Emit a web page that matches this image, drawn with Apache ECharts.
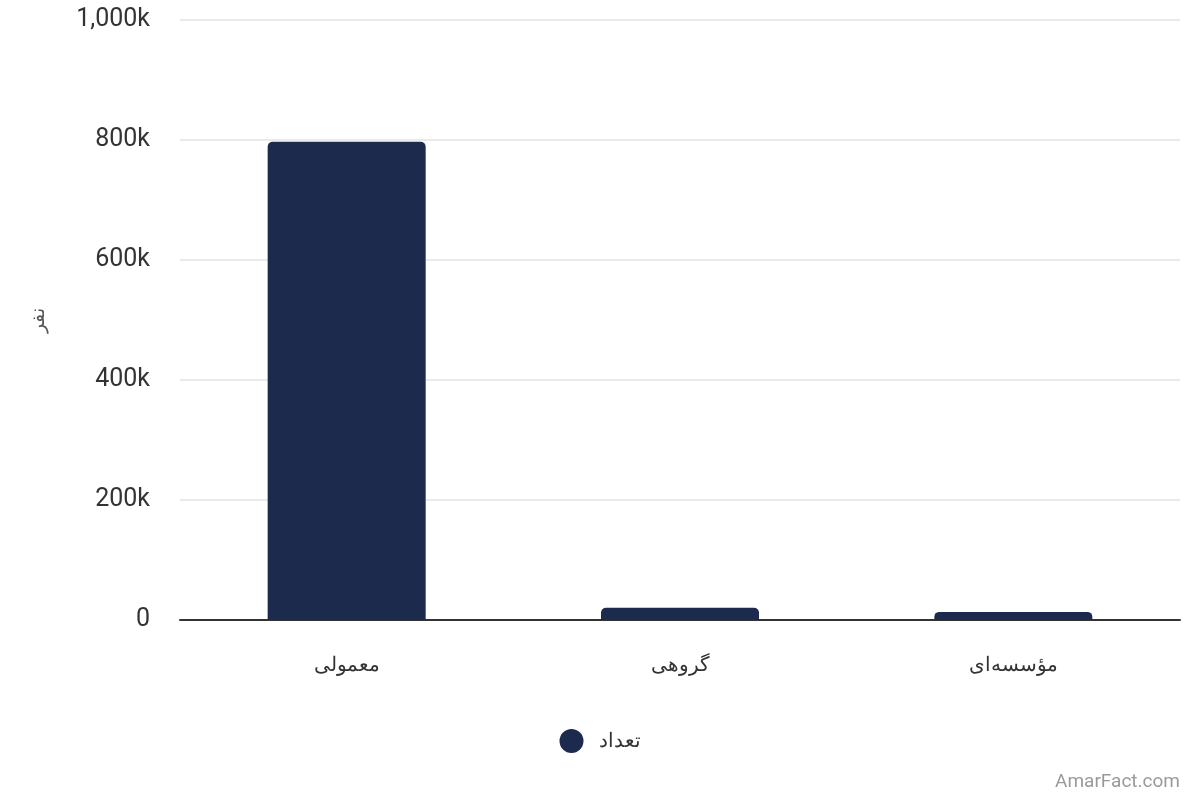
<!DOCTYPE html>
<html>
<head>
<meta charset="utf-8">
<script src="https://cdn.jsdelivr.net/npm/echarts@6/dist/echarts.min.js"></script>
<style>
html,body{margin:0;padding:0;background:#fff;}
#chart{width:1200px;height:800px;}
</style>
</head>
<body>
<div id="chart"></div>
<script>
const categories = ['معمولی', 'گروهی', 'مؤسسه‌ای'];
const values = [797000, 20500, 13500];
const seriesName = 'تعداد';
const yAxisName = 'نفر';
const watermark = 'AmarFact.com';

const chart = echarts.init(document.getElementById('chart'));
chart.setOption({
  animation: false,
  textStyle: { fontFamily: 'Roboto, "Noto Sans", sans-serif' },
  grid: { left: 180, right: 20, top: 20, bottom: 180 },
  legend: {
    bottom: 42,
    left: 'center',
    icon: 'circle',
    itemWidth: 24,
    itemHeight: 24,
    itemGap: 12,
    textStyle: { fontSize: 20, color: '#333', padding: [0, 0, 0, 10], fontFamily: '"Noto Sans", Roboto, sans-serif' },
    data: [seriesName]
  },
  graphic: [{
    type: 'text',
    right: 20,
    bottom: 8,
    style: { text: watermark, fontSize: 19, fill: '#9a9a9a', fontFamily: 'Roboto, sans-serif' }
  }],
  xAxis: {
    type: 'category',
    data: categories,
    axisLine: { lineStyle: { color: '#333', width: 2 } },
    axisTick: { show: false },
    axisLabel: { fontSize: 20, color: '#333', margin: 35, fontFamily: '"Noto Sans", Roboto, sans-serif' }
  },
  yAxis: {
    type: 'value',
    min: 0,
    max: 1000000,
    interval: 200000,
    name: yAxisName,
    nameLocation: 'middle',
    nameGap: 132,
    nameRotate: 90,
    nameTextStyle: { fontSize: 19, color: '#555', fontFamily: '"Noto Sans", sans-serif' },
    axisLine: { show: false },
    axisTick: { show: false },
    splitLine: { lineStyle: { color: '#e3e3e3', width: 1.5 } },
    axisLabel: {
      fontSize: 25,
      color: '#333',
      margin: 30,
      formatter: function (v) { return v === 0 ? '0' : (v / 1000).toLocaleString('en-US') + 'k'; }
    }
  },
  series: [{
    name: seriesName,
    type: 'bar',
    data: values,
    barWidth: 158,
    itemStyle: { color: '#1b2a4d', borderRadius: [5, 5, 0, 0] }
  }]
});
</script>
</body>
</html>
